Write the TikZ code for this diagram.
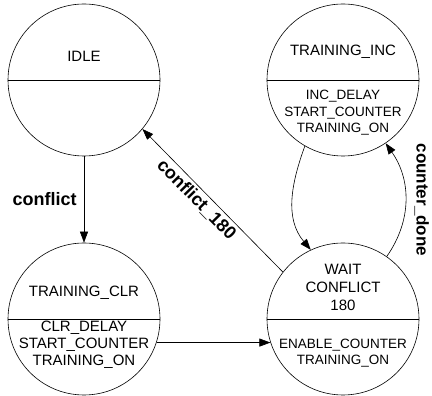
\documentclass[tikz,border=0pt]{standalone}
\usepackage{fontspec}
\setmainfont{Liberation Sans}
\usetikzlibrary{arrows.meta}

\begin{document}
\begin{tikzpicture}[
    x=1pt, y=1pt,
    st/.style={draw, circle, minimum size=152pt, inner sep=0pt, line width=0.6pt},
    big/.style={align=center, font=\fontsize{15}{18}\selectfont, inner sep=0pt},
    small/.style={align=center, font=\fontsize{13.5}{16.4}\selectfont, inner sep=0pt},
    ev/.style={font=\fontsize{18}{18}\selectfont\bfseries, inner sep=3pt},
    ar/.style={-{Triangle[length=11pt, width=8pt]}, line width=0.6pt}
]
\useasboundingbox (0,0) rectangle (432,396);
\node[st] (idle) at (84,316) {};
\node[st] (inc) at (343,316) {};
\node[st] (clr) at (84,77) {};
\node[st] (wait) at (343,77) {};
\foreach \s in {idle, inc, clr, wait}
    \draw[line width=0.6pt] (\s.west) -- (\s.east);

\node[big] (idlet) at (84,340) {IDLE};
\node[big] (inct) at (343,344) {TRAINING\_INC};
\node[small] (inca) at (343,283) {INC\_DELAY\\START\_COUNTER\\TRAINING\_ON};
\node[big] (clrt) at (84,103) {TRAINING\_CLR};
\node[big] (clra) at (84,51) {CLR\_DELAY\\[-1pt]START\_COUNTER\\[-1pt]TRAINING\_ON};
\node[big] (waitt) at (343,109) {WAIT\\CONFLICT\\180};
\node[small] (waita) at (343,43) {ENABLE\_COUNTER\\[-1pt]TRAINING\_ON};

\draw[ar] (idle.south) -- node[ev, left=4pt] {conflict} (clr.north);
\draw[ar] (clr.-18) -- (wait.198);
\draw[ar] (wait.142) -- node[ev, sloped, below, pos=0.56] {conflict\_180} (idle.-40);
\draw[ar] (inc.240) to[out=250, in=130] (wait.115);
\draw[ar] (wait.55) to[out=55, in=-55] node[ev, midway, rotate=-90, anchor=south, inner sep=9pt, font=\fontsize{17}{17}\selectfont\bfseries] {counter\_done} (inc.-56);
\end{tikzpicture}
\end{document}
